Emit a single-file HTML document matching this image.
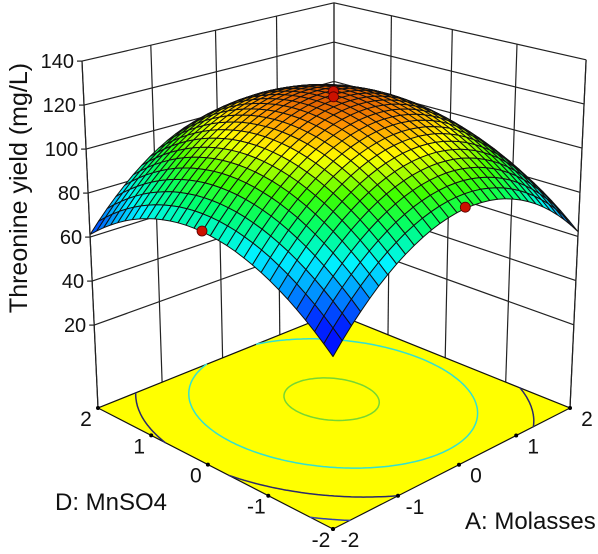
<!DOCTYPE html>
<html><head><meta charset="utf-8"><style>
html,body{margin:0;padding:0;background:#fff;}
svg{display:block;font-family:"Liberation Sans",Arial,sans-serif;}
</style></head><body>
<svg id="chart" width="598" height="554" viewBox="0 0 598 554" xmlns="http://www.w3.org/2000/svg">
<g id="walls"></g>
<g id="floor"></g>
<g id="surface"></g>
<g id="points"></g>
<g id="axes"></g>
<text x="0" y="0" transform="translate(27,188) rotate(-90)" text-anchor="middle" font-size="25" fill="#111">Threonine yield (mg/L)</text>
<text x="55" y="510" font-size="24" fill="#111">D: MnSO4</text>
<text x="465" y="529" font-size="24" fill="#111">A: Molasses</text>
</svg>
<script>
// ---- data ----
const zTicks = [20, 40, 60, 80, 100, 120, 140];
const codedTicks = [-2, -1, 0, 1, 2];
// fitted quadratic model coefficients: intercept, A, D, AD, A^2, D^2
const coefNames = ["b0", "bA", "bD", "bAD", "bAA", "bDD"];
const coefValues = [122, 2.75, 2.5, 0, -8.7, -6.4];
// design points (coded A, coded D, measured yield)
const ptA = [0, 0, -2, 0];
const ptD = [0, 0, 0, -2];
const ptY = [126, 123.5, 82, 92];
const contourLevels = [60, 80, 100, 120];
const contourColors = ["#3344aa", "#2a2a6a", "#33e0d0", "#77d633"];

// ---- projection ----
const ZF = -17.7, ZTOP = 140, VPX = 334, VPY = 5526;
const Q = [[333,529],[570,408],[334,313],[98,408]]; // front,right,back,left
function homog(){
  const [x0,y0]=Q[0],[x1,y1]=Q[1],[x2,y2]=Q[2],[x3,y3]=Q[3];
  const sx=x0-x1+x2-x3, sy=y0-y1+y2-y3;
  const dx1=x1-x2,dx2=x3-x2,dy1=y1-y2,dy2=y3-y2;
  const den=dx1*dy2-dy1*dx2;
  const g=(sx*dy2-sy*dx2)/den, h=(dx1*sy-dy1*sx)/den;
  return {a:x1-x0+g*x1,b:x3-x0+h*x3,c:x0,d:y1-y0+g*y1,e:y3-y0+h*y3,f:y0,g,h};
}
const HM = homog();
function floorPt(A,D){
  const u=(A+2)/4, v=(D+2)/4, w=HM.g*u+HM.h*v+1;
  return {x:(HM.a*u+HM.b*v+HM.c)/w, y:(HM.d*u+HM.e*v+HM.f)/w, w};
}
const wLeft = floorPt(-2,2).w;
function P(A,D,z){
  const F=floorPt(A,D); const k=2.2*wLeft/F.w; const hp=(z-ZF)*k;
  return {x:F.x+(F.x-VPX)*hp/(VPY-F.y), y:F.y-hp, w:F.w};
}
function model(A,D){
  const c=coefValues;
  return c[0]+c[1]*A+c[2]*D+c[3]*A*D+c[4]*A*A+c[5]*D*D;
}
const NS="http://www.w3.org/2000/svg";
function mk(tag,attrs,parent){const el=document.createElementNS(NS,tag);for(const k in attrs)el.setAttribute(k,attrs[k]);parent.appendChild(el);return el;}
const f=v=>v.toFixed(1);

// ---- walls ----
const walls=document.getElementById('walls');
function line(p,q,parent,name,sw,col){
  const el=mk('line',{x1:f(p.x),y1:f(p.y),x2:f(q.x),y2:f(q.y),stroke:col||'#222','stroke-width':sw||1.2},parent);
  
  
  return el;
}
codedTicks.forEach(t=>{
  line(P(t,2,ZF),P(t,2,ZTOP),walls,'left-wall-gridline');
  line(P(2,t,ZF),P(2,t,ZTOP),walls,'right-wall-gridline');
});
zTicks.forEach(z=>{
  line(P(-2,2,z),P(2,2,z),walls,'left-wall-z-gridline');
  line(P(2,2,z),P(2,-2,z),walls,'right-wall-z-gridline');
});

// ---- floor ----
const floorG=document.getElementById('floor');
const corners=[P(-2,-2,ZF),P(2,-2,ZF),P(2,2,ZF),P(-2,2,ZF)];
const fl=mk('polygon',{points:corners.map(p=>f(p.x)+','+f(p.y)).join(' '),fill:'#ffff00',stroke:'#111','stroke-width':1.2},floorG);


const NC=90;
contourLevels.forEach((lev,li)=>{
  let d='';
  const st=4/NC;
  for(let i=0;i<NC;i++)for(let j=0;j<NC;j++){
    const a0=-2+i*st,d0=-2+j*st;
    const c=[[a0,d0],[a0+st,d0],[a0+st,d0+st],[a0,d0+st]];
    const v=c.map(p=>model(p[0],p[1])-lev);
    const pts=[];
    for(let e=0;e<4;e++){
      const p=c[e],q=c[(e+1)%4],vp=v[e],vq=v[(e+1)%4];
      if((vp<0)!==(vq<0)){const t=vp/(vp-vq);pts.push([p[0]+t*(q[0]-p[0]),p[1]+t*(q[1]-p[1])]);}
    }
    for(let m=0;m+1<pts.length;m+=2){
      const p1=P(pts[m][0],pts[m][1],ZF),p2=P(pts[m+1][0],pts[m+1][1],ZF);
      d+='M'+f(p1.x)+' '+f(p1.y)+'L'+f(p2.x)+' '+f(p2.y);
    }
  }
  const cp=mk('path',{d,stroke:contourColors[li],'stroke-width':1.5,fill:'none','stroke-linecap':'round'},floorG);
  
  
});

// ---- surface ----
const surf=document.getElementById('surface');
const stops=[[50,[0,0,255]],[61,[0,40,255]],[71,[0,160,255]],[79,[0,245,255]],[89,[0,255,110]],[98,[60,255,0]],[109,[255,255,0]],[117,[255,150,0]],[124,[210,70,0]]];
function color(z){
  if(z<=stops[0][0])return 'rgb(0,0,255)';
  for(let i=1;i<stops.length;i++){if(z<=stops[i][0]){const t=(z-stops[i-1][0])/(stops[i][0]-stops[i-1][0]);const a=stops[i-1][1],b=stops[i][1];return 'rgb('+a.map((v,k)=>Math.round(v+t*(b[k]-v))).join(',')+')';}}
  const l=stops[stops.length-1][1];return 'rgb('+l.join(',')+')';
}
const N=30, quads=[];
for(let i=0;i<N;i++)for(let j=0;j<N;j++){
  const a0=-2+4*i/N,a1=-2+4*(i+1)/N,d0=-2+4*j/N,d1=-2+4*(j+1)/N;
  const cs=[[a0,d0],[a1,d0],[a1,d1],[a0,d1]];
  const zs=cs.map(c=>model(c[0],c[1]));
  const pts=cs.map((c,k)=>P(c[0],c[1],zs[k]));
  const zc=(zs[0]+zs[1]+zs[2]+zs[3])/4;
  quads.push({pts,zc,w:floorPt((a0+a1)/2,(d0+d1)/2).w});
}
quads.sort((p,q)=>q.w-p.w);
quads.forEach(q=>{
  const el=mk('polygon',{points:q.pts.map(p=>f(p.x)+','+f(p.y)).join(' '),fill:color(q.zc),stroke:'#111','stroke-width':1,'stroke-linejoin':'round'},surf);
  
  
});

// ---- design points ----
const ptsG=document.getElementById('points');
ptA.forEach((a,i)=>{
  const p=P(a,ptD[i],ptY[i]);
  const c=mk('circle',{cx:f(p.x),cy:f(p.y),r:5,fill:'#cc1100',stroke:'#550000','stroke-width':0.8},ptsG);
  
  
});

// ---- axes ----
const axes=document.getElementById('axes');
line(P(-2,2,ZF),P(-2,2,ZTOP),axes,'z-axis-line');
line(P(2,-2,ZF),P(2,-2,ZTOP),axes,'right-edge-line');
zTicks.forEach(z=>{
  const p=P(-2,2,z);
  line({x:p.x-5,y:p.y},p,axes,'z-tick');
  const t=mk('text',{x:f(p.x-8),y:f(p.y+7),'text-anchor':'end','font-size':20,fill:'#111'},axes);
  t.textContent=z;
  
  
});
codedTicks.forEach(v=>{
  const pd=P(-2,v,ZF);
  const dd=mk('circle',{cx:f(pd.x),cy:f(pd.y),r:2,fill:'#000'},axes);
  
  
  const td=mk('text',{x:f(pd.x-12),y:f(pd.y+18),'text-anchor':'middle','font-size':21,fill:'#111'},axes);
  td.textContent=v;
  
  
  const pa=P(v,-2,ZF);
  const da=mk('circle',{cx:f(pa.x),cy:f(pa.y),r:2,fill:'#000'},axes);
  
  
  const ta=mk('text',{x:f(pa.x+17),y:f(pa.y+18),'text-anchor':'middle','font-size':21,fill:'#111'},axes);
  ta.textContent=v;
  
  
});
</script>
</body></html>
